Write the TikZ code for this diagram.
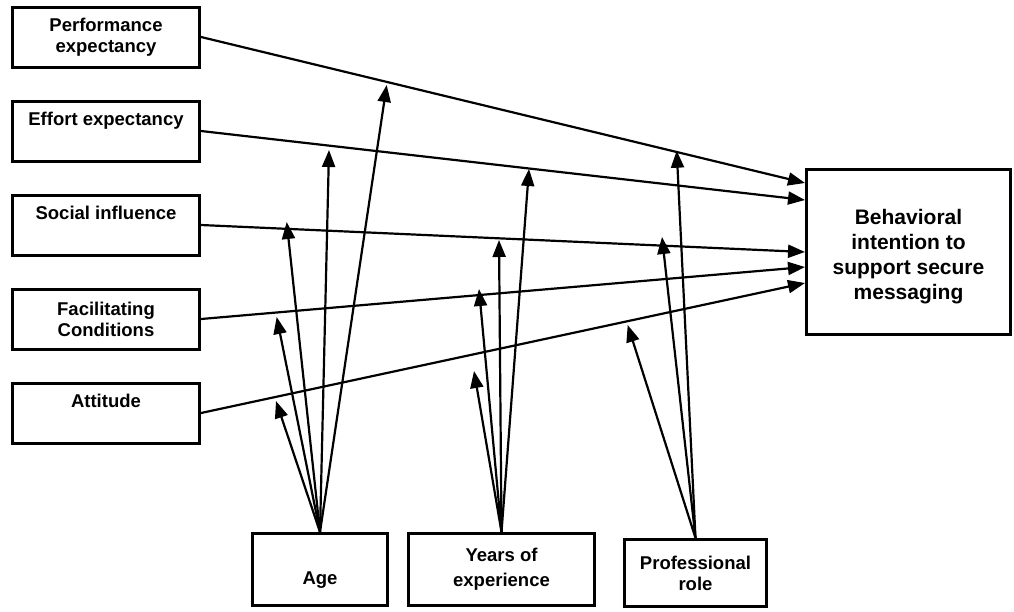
\documentclass[tikz,border=0pt]{standalone}
\usepackage{fontspec}
\setmainfont{Liberation Sans}
\usetikzlibrary{positioning, arrows.meta, calc}
\tikzset{
  varbox/.style={draw=black, line width=3pt, fill=white, text=black, align=center,
    font=\bfseries\fontsize{18.5}{21}\selectfont, inner sep=0pt},
  lbox/.style={varbox, minimum width=187pt, minimum height=60pt},
  mbox/.style={varbox, minimum height=72pt},
  flow/.style={-{Triangle[length=17pt, width=13pt]}, line width=2.2pt, color=black},
}

\begin{document}
\begin{tikzpicture}[x=1pt, y=-1pt, node distance=31pt]
  \useasboundingbox (0,0) rectangle (1014,611);
  % predictors
  \node[lbox] (perf) at (106,37) {Performance\\expectancy};
  \node[lbox, below=of perf] (effort) {Effort expectancy\\\vphantom{y}};
  \node[lbox, below=of effort] (social) {Social influence\\\vphantom{y}};
  \node[lbox, below=of social] (facil) {Facilitating\\Conditions};
  \node[lbox, below=of facil] (attit) {Attitude\\\vphantom{y}};
  % outcome
  \node[varbox, minimum width=204pt, minimum height=165pt, font=\bfseries\fontsize{21}{25}\selectfont] (bi) at (908.5,252)
    {\rule{0pt}{25pt}Behavioral\\intention to\\support secure\\messaging};
  % moderators
  \node[mbox, minimum width=135pt] (age) at (320,569.5) {\vphantom{A}\\Age};
  \node[mbox, minimum width=186pt, right=18pt of age] (years) {Years of\\[4pt]experience};
  \node[varbox, minimum width=142pt, minimum height=67pt, right=27pt of years, yshift=-3.5pt] (prof) {Professional\\role};

  \coordinate (in1) at ([yshift=69pt]bi.west);
  \coordinate (in2) at ([yshift=52pt]bi.west);
  \coordinate (in3) at (bi.west);
  \coordinate (in4) at ([yshift=-15pt]bi.west);
  \coordinate (in5) at ([yshift=-31pt]bi.west);

  \draw[flow] (perf.east) -- (in1);
  \draw[flow] (effort.east) -- (in2);
  \draw[flow] (social.east) -- (in3);
  \draw[flow] (facil.east) -- (in4);
  \draw[flow] (attit.east) -- (in5);

  % moderating arrows
  \coordinate (age1) at (386.7,85);
  \coordinate (age2) at (329,150);
  \coordinate (age3) at (286.7,222);
  \coordinate (age4) at (276.7,317);
  \coordinate (age5) at (276,401);
  \coordinate (yrs2) at (529,169);
  \coordinate (yrs3) at (499,240);
  \coordinate (yrs4) at (479,289);
  \coordinate (yrs5) at (474,371);
  \coordinate (prf1) at (676.7,150.7);
  \coordinate (prf3) at (662,237);
  \coordinate (prf5) at (627.7,325);

  \foreach \t in {age1,age2,age3,age4,age5}
    \draw[flow] (age.north) -- (\t);
  \foreach \t in {yrs2,yrs3,yrs4,yrs5}
    \draw[flow] (years.north) -- (\t);
  \foreach \t in {prf1,prf3,prf5}
    \draw[flow] (prof.north) -- (\t);
\end{tikzpicture}
\end{document}
